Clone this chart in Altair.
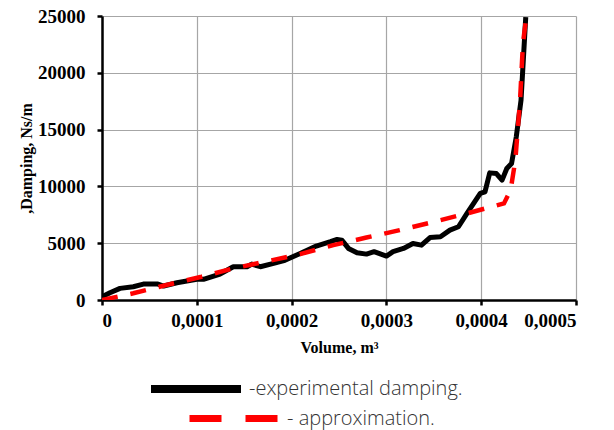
import altair as alt
import pandas as pd

# experimental damping curve (volume m^3, damping Ns/m)
exp_v = [0.0, 8.4e-6, 1.9e-5, 3.3e-5, 4.36e-5, 5.9e-5, 6.5e-5, 7.9e-5, 1.0e-4, 1.07e-4,
         1.245e-4, 1.385e-4, 1.53e-4, 1.58e-4, 1.67e-4, 1.81e-4, 1.93e-4, 2.09e-4, 2.26e-4,
         2.41e-4, 2.48e-4, 2.53e-4, 2.60e-4, 2.69e-4, 2.79e-4, 2.87e-4, 3.0e-4, 3.07e-4,
         3.18e-4, 3.28e-4, 3.37e-4, 3.46e-4, 3.57e-4, 3.67e-4, 3.76e-4, 3.85e-4, 3.99e-4,
         4.04e-4, 4.09e-4, 4.16e-4, 4.22e-4, 4.27e-4, 4.32e-4, 4.37e-4, 4.42e-4, 4.44e-4,
         4.47e-4]
exp_d = [290, 645, 1025, 1170, 1400, 1400, 1230, 1520, 1820, 1820,
         2285, 2930, 2930, 3160, 2930, 3220, 3500, 4100, 4750,
         5130, 5330, 5270, 4540, 4160, 4040, 4250, 3870, 4250,
         4540, 4980, 4830, 5500, 5570, 6150, 6450, 7620, 9380,
         9520, 11190, 11130, 10550, 11570, 12010, 14360, 17580, 20510,
         24900]

# approximation curve
apx_v = [0.0, 3.3e-5, 6.8e-5, 1.05e-4, 1.385e-4, 1.72e-4, 2.09e-4, 2.44e-4, 2.79e-4,
         3.14e-4, 3.5e-4, 3.85e-4, 4.24e-4, 4.31e-4, 4.36e-4, 4.41e-4, 4.44e-4, 4.48e-4]
apx_d = [0, 590, 1320, 2050, 2780, 3370, 4040, 4830, 5500,
         6150, 6880, 7620, 8500, 9670, 12300, 17580, 22560, 25200]

exp_label = "-experimental damping."
apx_label = "- approximation."

x_ticks = [0, 0.0001, 0.0002, 0.0003, 0.0004, 0.0005]
y_ticks = [0, 5000, 10000, 15000, 20000, 25000]

df_exp = pd.DataFrame({"v": exp_v, "d": exp_d, "s": exp_label})
df_apx = pd.DataFrame({"v": apx_v, "d": apx_d, "s": apx_label})

serif = "Liberation Serif"
xenc = alt.X("v:Q", scale=alt.Scale(domain=[0, 0.0005], nice=False),
             axis=alt.Axis(values=x_ticks, title="Volume, m³",
                           labelExpr="datum.value == 0 ? '0' : replace(format(datum.value, '.4f'), '.', ',')"))
yenc = alt.Y("d:Q", scale=alt.Scale(domain=[0, 25000], nice=False),
             axis=alt.Axis(values=y_ticks, title=",Damping, Ns/m", format="d"))

legend_common = dict(orient="none", title=None, symbolType="stroke", symbolSize=8100,
                     labelFont="Open Sans", labelFontSize=20, labelColor="#333333",
                     labelFontWeight=300, labelOffset=4, padding=0, labelLimit=400)

exp_line = alt.Chart(df_exp).mark_line(strokeWidth=5, strokeJoin="round", clip=True).encode(
    x=xenc, y=yenc,
    color=alt.Color("s:N", scale=alt.Scale(domain=[exp_label], range=["black"]),
                    legend=alt.Legend(legendX=45, legendY=324, symbolStrokeWidth=8, **legend_common)),
)
apx_line = alt.Chart(df_apx).mark_line(strokeWidth=4.5, strokeDash=[16, 13], clip=True).encode(
    x=xenc, y=yenc,
    color=alt.Color("s:N", scale=alt.Scale(domain=[apx_label], range=["#ff0000"]),
                    legend=alt.Legend(legendX=84, legendY=354, symbolStrokeWidth=7,
                                      symbolDash=[32, 24], **legend_common)),
)

chart = alt.layer(exp_line, apx_line).resolve_scale(color="independent").properties(
    width=474, height=284,
    autosize=alt.AutoSizeParams(type="none"),
    padding={"left": 102, "top": 16, "right": 38, "bottom": 130},
).configure_view(strokeWidth=0).configure_axis(
    labelFont=serif, labelFontWeight="bold", labelFontSize=19, labelColor="black",
    titleFont=serif, titleFontWeight="bold", titleFontSize=16, titleColor="black",
    domainColor="black", domainWidth=2.5, tickColor="black", tickWidth=2.5, tickSize=5,
    gridColor="#a6a6a6", gridWidth=1.2,
).configure_axisX(titlePadding=9, labelPadding=6).configure_axisY(titlePadding=3, labelPadding=12)

chart.save("out.html", embed_options={"renderer": "svg", "actions": False})
